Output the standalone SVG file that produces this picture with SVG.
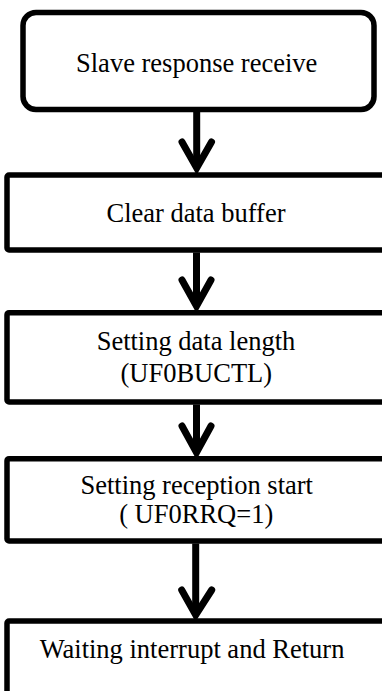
<svg xmlns="http://www.w3.org/2000/svg" width="382" height="691" viewBox="0 0 382 691">
<style>
.box{fill:#fff;stroke:#000;stroke-width:5.5}
.t{font-family:"Liberation Serif","Times New Roman",serif;font-size:26.5px;fill:#000;text-anchor:middle}
.ln{stroke:#000;stroke-width:7;fill:none}
.hd{stroke:#000;stroke-width:7;fill:none;stroke-linecap:round;stroke-linejoin:miter;stroke-miterlimit:10}
</style>
<rect width="382" height="691" fill="#fff"/>
<g id="n1"><rect class="box" x="23" y="12.5" width="351" height="97" rx="13"/><text class="t" x="196.7" y="72">Slave response receive</text></g>
<g id="n2"><rect class="box" x="7" y="175" width="400" height="75" rx="2"/><text class="t" x="196" y="222">Clear data buffer</text></g>
<g id="n3"><rect class="box" x="7" y="312.7" width="400" height="89.3" rx="2"/><text class="t" x="196" y="349.5">Setting data length</text><text class="t" x="196.3" y="382">(UF0BUCTL)</text></g>
<g id="n4"><rect class="box" x="7" y="458.7" width="400" height="82.3" rx="2"/><text class="t" x="196.7" y="493.5">Setting reception start</text><text class="t" x="196.2" y="523">( UF0RRQ=1)</text></g>
<g id="n5"><rect class="box" x="7" y="621" width="400" height="100" rx="2"/><text class="t" x="192" y="658">Waiting interrupt and Return</text></g>
<g id="connectors">
<path class="ln" d="M196.7 112V166"/><path class="hd" d="M182 142L196.7 168L211.5 142"/>
<path class="ln" d="M196.5 252.5V304"/><path class="hd" d="M182 280L196.5 306L211 280"/>
<path class="ln" d="M196.5 404.5V451"/><path class="hd" d="M182 426L196.5 452.5L211 426"/>
<path class="ln" d="M195.7 543.5V613"/><path class="hd" d="M181.7 590L195.7 615L211.7 590"/>
</g>
</svg>
